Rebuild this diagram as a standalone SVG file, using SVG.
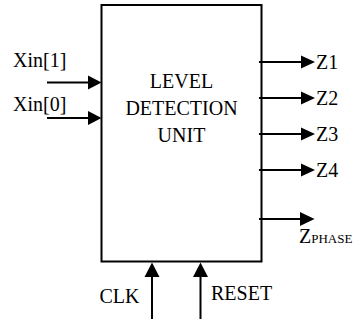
<svg xmlns="http://www.w3.org/2000/svg" width="353" height="322" viewBox="0 0 353 322" font-family="'Liberation Serif', 'Times New Roman', serif">
<style>
.ln{stroke:#000;stroke-width:2;fill:none}
.ah{fill:#000;stroke:none}
text{font-family:'Liberation Serif','Times New Roman',serif;fill:#000}
.lb{font-size:20px}
.sub{font-size:13px}
.ct{font-size:20px;text-anchor:middle}
</style>
<rect width="353" height="322" fill="#fff"/>
<g id="unit">
<rect class="ln" x="101.5" y="5" width="160" height="256.5"/>
<text class="ct" x="181.5" y="88">LEVEL</text>
<text class="ct" x="181.5" y="115">DETECTION</text>
<text class="ct" x="181.5" y="141.5">UNIT</text>
</g>
<g id="connectors">
<line class="ln" x1="47" y1="82.5" x2="89" y2="82.5"/>
<polygon class="ah" points="88,75.5 101.5,82.5 88,89.5"/>
<line class="ln" x1="47" y1="118" x2="89" y2="118"/>
<polygon class="ah" points="88,111 101.5,118 88,125"/>
<line class="ln" x1="259" y1="62" x2="302" y2="62"/>
<polygon class="ah" points="301,55.5 315,62 301,68.5"/>
<line class="ln" x1="259" y1="98" x2="302" y2="98"/>
<polygon class="ah" points="301,91.5 315,98 301,104.5"/>
<line class="ln" x1="259" y1="134" x2="302" y2="134"/>
<polygon class="ah" points="301,127.5 315,134 301,140.5"/>
<line class="ln" x1="259" y1="170" x2="302" y2="170"/>
<polygon class="ah" points="301,163.5 315,170 301,176.5"/>
<line class="ln" x1="259" y1="219" x2="301" y2="219"/>
<polygon class="ah" points="300,212 314.5,219 300,226"/>
<line class="ln" x1="152" y1="319" x2="152" y2="275"/>
<polygon class="ah" points="144.5,277 152,262.5 159.5,277"/>
<line class="ln" x1="200.5" y1="319" x2="200.5" y2="275"/>
<polygon class="ah" points="193,277 200.5,262.5 208,277"/>
</g>
<g id="lbl-xin1"><text class="lb" x="13" y="67">Xin[1]</text></g>
<g id="lbl-xin0"><text class="lb" x="13" y="111">Xin[0]</text></g>
<g id="lbl-z1"><text class="lb" x="316" y="68.5">Z1</text></g>
<g id="lbl-z2"><text class="lb" x="316" y="104.5">Z2</text></g>
<g id="lbl-z3"><text class="lb" x="316" y="140.5">Z3</text></g>
<g id="lbl-z4"><text class="lb" x="316" y="176.5">Z4</text></g>
<g id="lbl-zphase"><text class="lb" x="299" y="243">Z<tspan class="sub">PHASE</tspan></text></g>
<g id="lbl-clk"><text class="lb" x="99.5" y="302.5">CLK</text></g>
<g id="lbl-reset"><text class="lb" x="211" y="300">RESET</text></g>
</svg>
